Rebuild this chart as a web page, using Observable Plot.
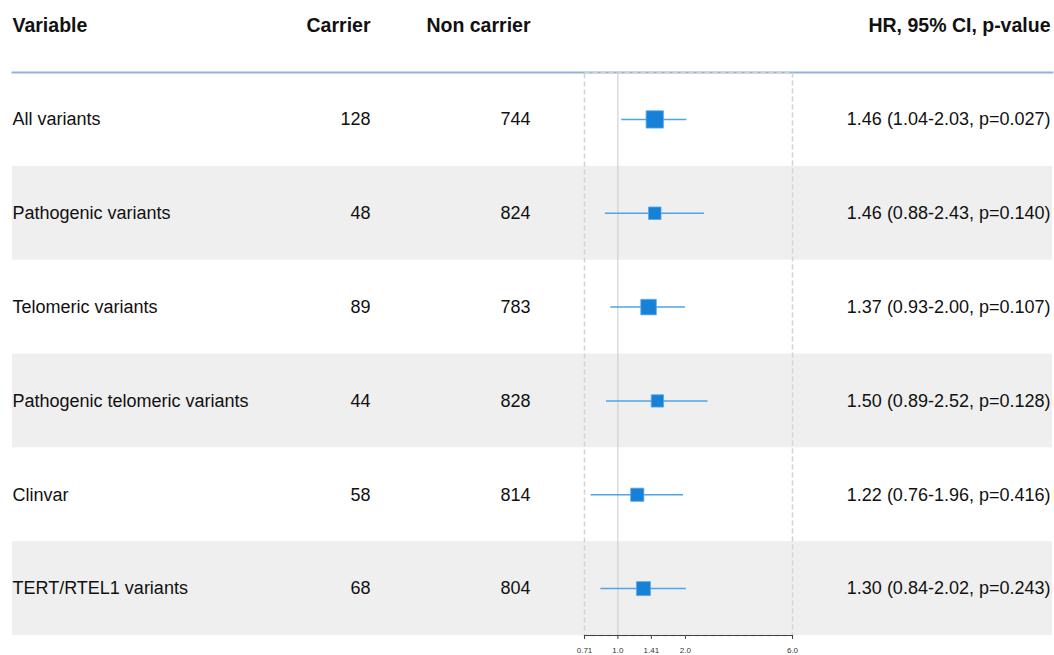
<!DOCTYPE html>
<html>
<head>
<meta charset="utf-8">
<script src="https://cdn.jsdelivr.net/npm/d3@7"></script>
<script src="https://cdn.jsdelivr.net/npm/@observablehq/plot@0.6"></script>
<style>
  html, body { margin: 0; padding: 0; background: #fff; }
  #chart svg { display: block; overflow: visible; }
</style>
</head>
<body>
<div id="chart"></div>
<script>
// ---- data ----
const variables = ["All variants", "Pathogenic variants", "Telomeric variants",
  "Pathogenic telomeric variants", "Clinvar", "TERT/RTEL1 variants"];
const carrier = [128, 48, 89, 44, 58, 68];
const nonCarrier = [744, 824, 783, 828, 814, 804];
const hr = [1.46, 1.46, 1.37, 1.50, 1.22, 1.30];
const ciLow = [1.04, 0.88, 0.93, 0.89, 0.76, 0.84];
const ciHigh = [2.03, 2.43, 2.00, 2.52, 1.96, 2.02];
const pValues = ["0.027", "0.140", "0.107", "0.128", "0.416", "0.243"];
const headers = ["Variable", "Carrier", "Non carrier", "HR, 95% CI, p-value"];
const xTicks = [0.71, 1.0, 1.41, 2.0, 6.0];
const xTickLabels = ["0.71", "1.0", "1.41", "2.0", "6.0"];

// ---- table built from arrays ----
const rows = variables.map((v, i) => ({
  variable: v,
  carrier: carrier[i],
  nonCarrier: nonCarrier[i],
  hr: hr[i],
  lo: ciLow[i],
  hi: ciHigh[i],
  weight: 3.92 / (Math.log(ciHigh[i]) - Math.log(ciLow[i])),
  label: `${hr[i].toFixed(2)} (${ciLow[i].toFixed(2)}-${ciHigh[i].toFixed(2)}, p=${pValues[i]})`
}));
const striped = rows.filter((d, i) => i % 2 === 1);

const W = 1054, H = 655;
const mL = 584, mR = 262, mT = 72, mB = 20;
const tableLeft = 12, tableRight = 1052;
const font = "'Liberation Sans', Arial, Helvetica, sans-serif";

const plot = Plot.plot({
  width: W,
  height: H,
  marginLeft: mL,
  marginRight: mR,
  marginTop: mT,
  marginBottom: mB,
  style: { fontFamily: font, background: "#fff", overflow: "visible" },
  x: { type: "log", domain: [xTicks[0], xTicks[xTicks.length - 1]], axis: null },
  y: { type: "band", domain: variables, padding: 0, round: false, axis: null },
  r: { type: "linear", domain: d3.extent(rows, d => d.weight), range: [6.94, 9.76] },
  marks: [
    // grey row stripes spanning the whole table
    Plot.cell(striped, { y: "variable", fill: "#efefef", insetLeft: -(mL - tableLeft), insetRight: -(tableRight - (W - mR)) }),
    // header separator line
    Plot.frame({ anchor: "top", stroke: "#8fb4de", strokeWidth: 1.8, insetLeft: -(mL - tableLeft), insetRight: -(tableRight - (W - mR)) }),
    // dashed frame around forest panel
    Plot.frame({ stroke: "#d2d2d2", strokeWidth: 1.5, strokeDasharray: "5,3" }),
    // reference line at HR = 1
    Plot.ruleX([1], { stroke: "#c8c8c8", strokeWidth: 1 }),
    // confidence intervals
    Plot.ruleY(rows, { y: "variable", x1: "lo", x2: "hi", stroke: "#4fa3e6", strokeWidth: 1.5 }),
    // point estimates
    Plot.dot(rows, { x: "hr", y: "variable", r: "weight", symbol: "square", fill: "#1681d6", stroke: "#5aa8ea", strokeWidth: 0.8 }),
    // table text
    Plot.text(rows, { y: "variable", text: "variable", frameAnchor: "left", dx: -(mL - tableLeft), textAnchor: "start", fontSize: 18, fill: "#111" }),
    Plot.text(rows, { y: "variable", text: d => String(d.carrier), frameAnchor: "left", dx: -(mL - 370), textAnchor: "end", fontSize: 18, fill: "#111" }),
    Plot.text(rows, { y: "variable", text: d => String(d.nonCarrier), frameAnchor: "left", dx: -(mL - 530), textAnchor: "end", fontSize: 18, fill: "#111" }),
    Plot.text(rows, { y: "variable", text: "label", frameAnchor: "right", dx: 1050 - (W - mR), textAnchor: "end", fontSize: 18, fill: "#111" }),
    // headers
    Plot.text([headers[0]], { frameAnchor: "top-left", dx: -(mL - tableLeft), dy: -47, lineAnchor: "middle", textAnchor: "start", fontSize: 19.5, fontWeight: "bold", fill: "#111" }),
    Plot.text([headers[1]], { frameAnchor: "top-left", dx: -(mL - 370), dy: -47, lineAnchor: "middle", textAnchor: "end", fontSize: 19.5, fontWeight: "bold", fill: "#111" }),
    Plot.text([headers[2]], { frameAnchor: "top-left", dx: -(mL - 530), dy: -47, lineAnchor: "middle", textAnchor: "end", fontSize: 19.5, fontWeight: "bold", fill: "#111" }),
    Plot.text([headers[3]], { frameAnchor: "top-right", dx: 1050 - (W - mR), dy: -47, lineAnchor: "middle", textAnchor: "end", fontSize: 19.5, fontWeight: "bold", fill: "#111" }),
    // x axis
    Plot.frame({ anchor: "bottom", stroke: "#444", strokeWidth: 1.2 }),
    Plot.axisX({
      ticks: xTicks,
      tickFormat: d => xTickLabels[xTicks.indexOf(d)],
      tickSize: 4,
      tickPadding: 8,
      fontSize: 8,
      stroke: "#444",
      color: "#333",
      label: null
    })
  ]
});

document.getElementById("chart").appendChild(plot);
</script>
</body>
</html>
